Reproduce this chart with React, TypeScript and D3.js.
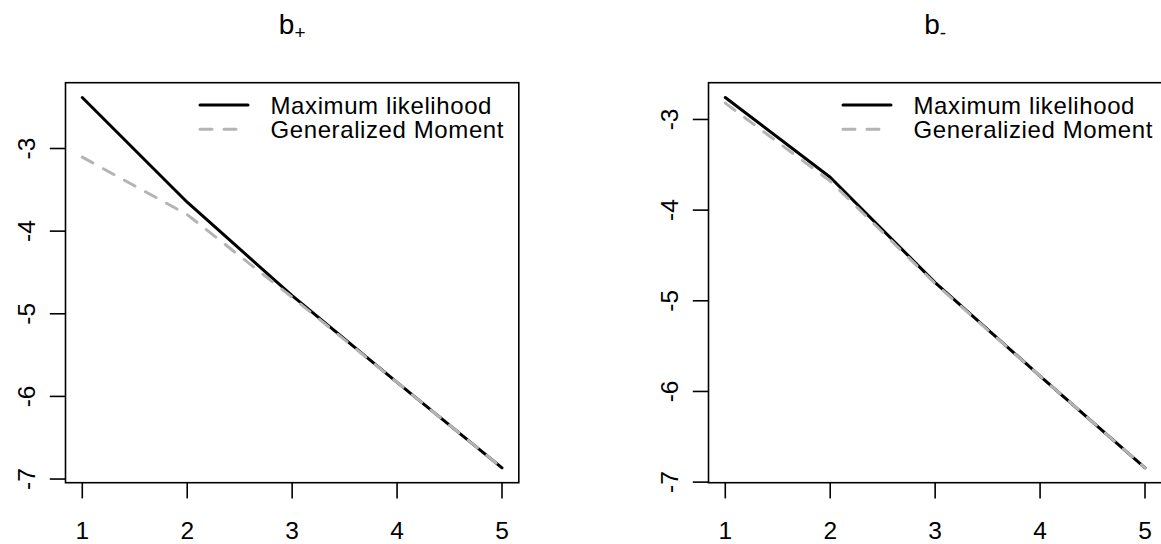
import React from "react";
import * as d3 from "d3";

const xValues = [1, 2, 3, 4, 5];
const xTicks = [1, 2, 3, 4, 5];
const yTicks = [-7, -6, -5, -4, -3];

const plusML = [-2.383, -3.65, -4.78, -5.83, -6.865];
const plusGM = [-3.105, -3.8, -4.8, -5.83, -6.865];
const minusML = [-2.758, -3.637, -4.8, -5.83, -6.843];
const minusGM = [-2.82, -3.68, -4.81, -5.83, -6.843];

const legendLabelsPlus = ["Maximum likelihood", "Generalized Moment"];
const legendLabelsMinus = ["Maximum likelihood", "Generalizied Moment"];

const FONT = "'Liberation Sans', Arial, Helvetica, sans-serif";
const GRAY = "#b4b4b4";

type PanelProps = {
  left: number;
  right: number;
  ml: number[];
  gm: number[];
  sub: string;
  labels: string[];
};

function Panel({ left, right, ml, gm, sub, labels }: PanelProps) {
  const top = 82.7;
  const bottom = 482.7;
  const xs = d3.scaleLinear().domain([0.84, 5.16]).range([left, right]);
  const all = ml.concat(gm);
  const [mn, mx] = d3.extent(all) as [number, number];
  const pad = (mx - mn) * 0.04;
  const ys = d3.scaleLinear().domain([mn - pad, mx + pad]).range([bottom, top]);
  const line = d3
    .line<number>()
    .x((_, i) => xs(xValues[i]))
    .y((d) => ys(d));
  const tick = 15.7;
  const center = (left + right) / 2;
  const legX = left + 134.5;
  const legY = 105;
  const legGap = 24.3;
  return (
    <g fontFamily={FONT}>
      <text x={center} y={34} textAnchor="middle" fontSize={28} fill="#000">
        b
        <tspan fontSize={19} dy={5}>
          {sub}
        </tspan>
      </text>
      <path d={line(ml) || ""} fill="none" stroke="#000" strokeWidth={3} strokeLinecap="round" strokeLinejoin="round" />
      <path
        d={line(gm) || ""}
        fill="none"
        stroke={GRAY}
        strokeWidth={3}
        strokeDasharray="12 12"
        strokeLinecap="round"
        strokeLinejoin="round"
      />
      <rect x={left} y={top} width={right - left} height={bottom - top} fill="none" stroke="#000" strokeWidth={1.6} />
      {yTicks.map((t) => (
        <g key={"y" + t}>
          <line x1={left - tick} x2={left} y1={ys(t)} y2={ys(t)} stroke="#000" strokeWidth={1.6} />
          <text
            transform={`translate(${left - 31},${ys(t)}) rotate(-90)`}
            textAnchor="middle"
            fontSize={24.5}
            fill="#000"
          >
            {t}
          </text>
        </g>
      ))}
      {xTicks.map((t) => (
        <g key={"x" + t}>
          <line x1={xs(t)} x2={xs(t)} y1={bottom} y2={bottom + tick} stroke="#000" strokeWidth={1.6} />
          <text x={xs(t)} y={539} textAnchor="middle" fontSize={24.5} fill="#000">
            {t}
          </text>
        </g>
      ))}
      <line x1={legX} x2={legX + 48} y1={legY} y2={legY} stroke="#000" strokeWidth={3} strokeLinecap="round" />
      <line
        x1={legX}
        x2={legX + 45}
        y1={legY + legGap}
        y2={legY + legGap}
        stroke={GRAY}
        strokeWidth={3}
        strokeDasharray="12 12"
        strokeLinecap="round"
      />
      <text x={legX + 70.5} y={legY + 8.6} fontSize={24} letterSpacing={0.6} fill="#000">
        {labels[0]}
      </text>
      <text x={legX + 70.5} y={legY + legGap + 8.6} fontSize={24} letterSpacing={0.6} fill="#000">
        {labels[1]}
      </text>
    </g>
  );
}

export default function App() {
  return (
    <svg
      width={1161}
      height={544}
      style={{ position: "absolute", left: 0, top: 0, background: "#fff" }}
    >
      <rect x={0} y={0} width={1161} height={544} fill="#fff" />
      <Panel left={65.5} right={518.8} ml={plusML} gm={plusGM} sub="+" labels={legendLabelsPlus} />
      <Panel left={708.5} right={1161.8} ml={minusML} gm={minusGM} sub="-" labels={legendLabelsMinus} />
    </svg>
  );
}
